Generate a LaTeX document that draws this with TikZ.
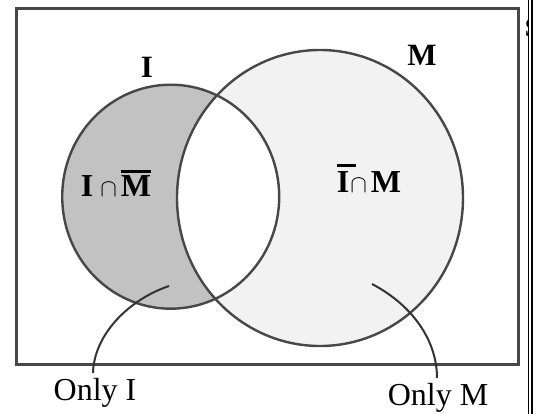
\documentclass[tikz,border=0pt]{standalone}
\usepackage{fontspec}
\setmainfont{Liberation Serif}
\newcommand{\myovl}[3]{\sbox0{#1}\rlap{\rule[#2]{#3\wd0}{3pt}}\usebox0}
\newcommand{\mycap}{{\fontsize{25}{25}\selectfont$\cap$}}
\begin{document}
\begin{tikzpicture}[x=1pt,y=-1pt,
  outline/.style={draw=black!72, line width=2.4pt},
  leader/.style={draw=black!80, line width=2pt},
  setlab/.style={font=\fontsize{31}{34}\selectfont\bfseries, inner sep=0pt, anchor=base},
  reglab/.style={font=\fontsize{32}{34}\selectfont\bfseries, inner sep=0pt, anchor=base},
  outlab/.style={font=\fontsize{32}{34}\selectfont, inner sep=0pt, anchor=base}]
\useasboundingbox (0,0) rectangle (542,414);
\fill[white] (0,0) rectangle (542,414);
% S label partly covered
\node[font=\fontsize{26}{28}\selectfont\bfseries, inner sep=0pt] (S) at (532,28) {S};
\fill[white] (527.8,0) rectangle (542,414);
\draw[black, line width=1.4pt] (528.4,0) -- (528.4,414);
\draw[black, line width=1.4pt] (531.8,0) -- (531.8,414);
% regions
\fill[black!24] (170.7,196.7) ellipse [x radius=108.5pt, y radius=112pt];
\fill[black!5] (320,198) ellipse [x radius=143pt, y radius=148pt];
\begin{scope}
  \clip (170.7,196.7) ellipse [x radius=108.5pt, y radius=112pt];
  \fill[white] (320,198) ellipse [x radius=143pt, y radius=148pt];
\end{scope}
% universe
\draw[outline, line width=2.8pt] (16.6,8.6) rectangle (518.5,364.7);
% circles
\draw[outline] (170.7,196.7) ellipse [x radius=108.5pt, y radius=112pt];
\draw[outline] (320,198) ellipse [x radius=143pt, y radius=148pt];
% labels
\node[setlab] (I) at (147,78) {I};
\node[setlab] (M) at (422,66) {M};
\node[reglab] (IM) at (116,197) {I\hspace{7pt}\mycap\hspace{4pt}\myovl{M}{24pt}{1}};
\node[reglab] (NIM) at (369,193) {\myovl{I}{26pt}{1.5}\hspace{1pt}\mycap\hspace{4pt}M};
\node[outlab] (OI) at (95,401) {Only I};
\node[outlab] (OM) at (438,406) {Only M};
% leaders
\coordinate (pI) at (169,286);
\coordinate (eI) at (93,373);
\coordinate (pM) at (372,284);
\coordinate (eM) at (437,378);
\draw[leader] (pI) .. controls (128,300) and (94,335) .. (eI);
\draw[leader] (pM) .. controls (412,305) and (437,340) .. (eM);
\end{tikzpicture}
\end{document}
